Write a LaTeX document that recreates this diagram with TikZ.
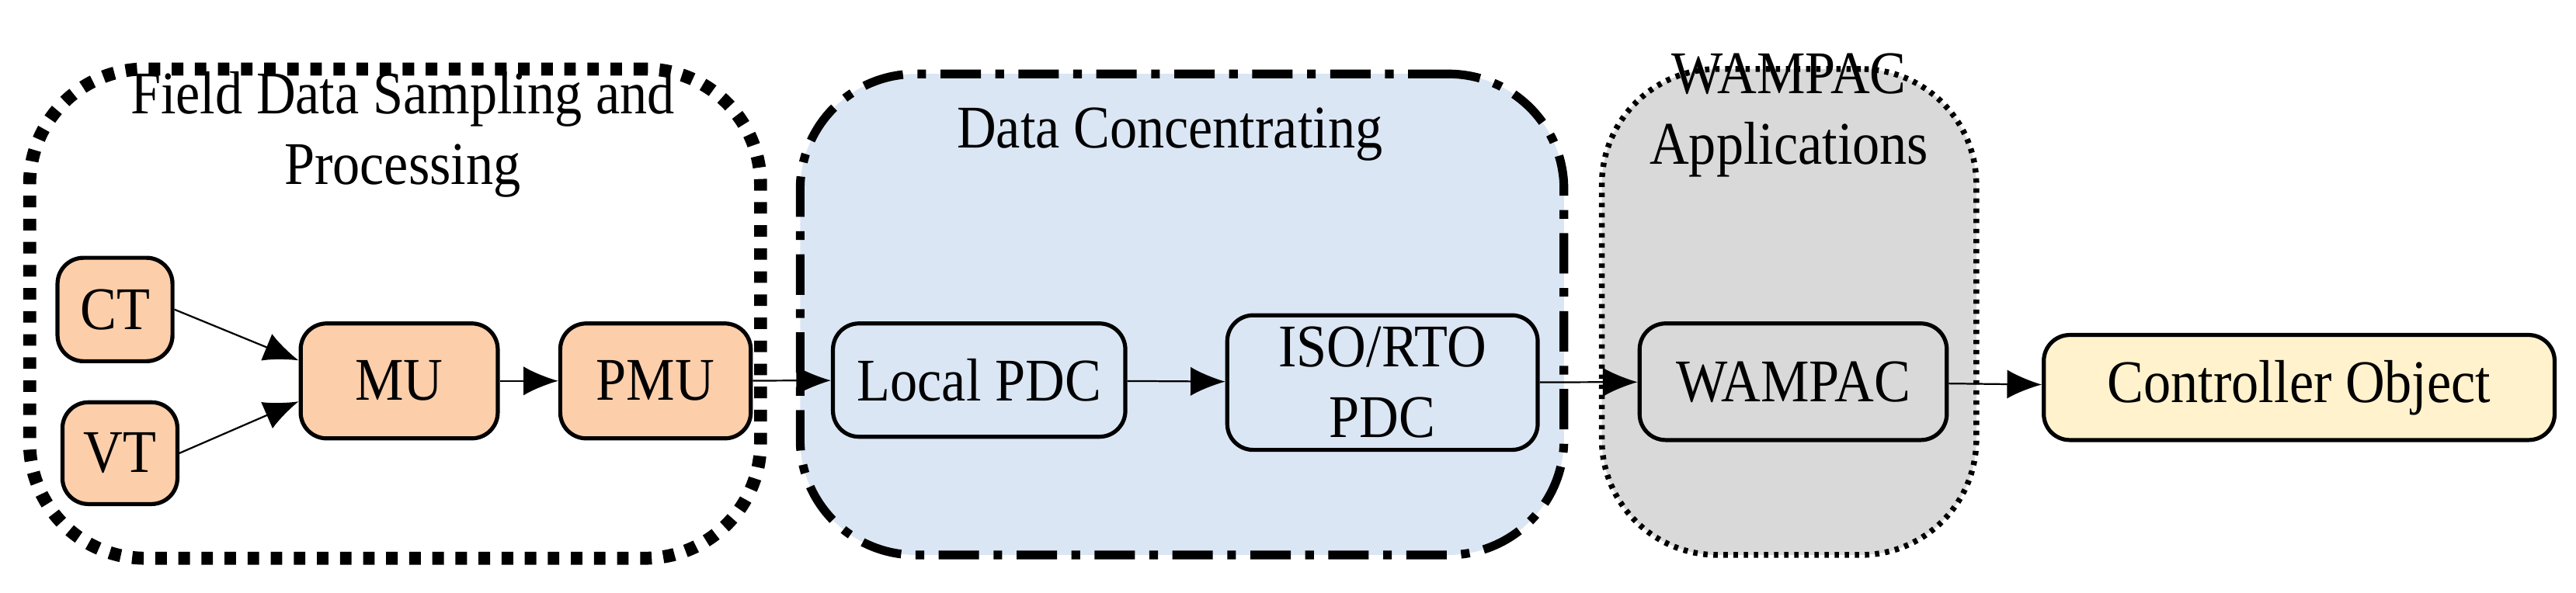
\documentclass[tikz,border=0pt]{standalone}
\usepackage{fontspec}
\setmainfont{Liberation Serif}[FakeStretch=0.9]
\usetikzlibrary{arrows.meta}
\definecolor{peach}{RGB}{252,206,170}
\definecolor{paleblue}{RGB}{218,230,244}
\definecolor{palegray}{RGB}{217,217,217}
\definecolor{paleyellow}{RGB}{255,242,204}
\tikzset{
  blk/.style={draw, line width=1.4pt, rounded corners=9pt, inner sep=0pt, align=center},
  grp/.style={draw, line width=3pt, rounded corners=40pt},
  con/.style={-{Latex[length=12pt,width=10pt]}, line width=0.6pt}
}
\begin{document}
\begin{tikzpicture}[x=0.02cm, y=-0.02cm, font=\fontsize{21}{24.5}\selectfont]
  \useasboundingbox (0,0) rectangle (1568,361);
  % group frames
  \node[grp, dash pattern=on 4pt off 4pt, line width=4.5pt, minimum width=8.9cm, minimum height=5.96cm] (field) at (240.5,191) {};
  \node[grp, fill=paleblue, dash pattern=on 14pt off 5pt on 3pt off 5pt, minimum width=9.3cm, minimum height=5.86cm] (conc) at (719.5,191.5) {};
  \node[grp, fill=palegray, dash pattern=on 1.5pt off 2pt, line width=2pt, minimum width=4.56cm, minimum height=5.92cm] (app) at (1089,190) {};
  % group titles
  \node[align=center] (fieldt) at (245,82) {Field Data Sampling and\\Processing};
  \node (conct) at (712,82) {Data Concentrating};
  \node[align=center] (appt) at (1089,70) {WAMPAC\\Applications};
  % blocks
  \node[blk, fill=peach, minimum width=1.4cm, minimum height=1.26cm] (ct) at (70,188.5) {CT};
  \node[blk, fill=peach, minimum width=1.4cm, minimum height=1.24cm] (vt) at (73,276) {VT};
  \node[blk, fill=peach, minimum width=2.4cm, minimum height=1.4cm] (mu) at (243,232) {MU};
  \node[blk, fill=peach, minimum width=2.32cm, minimum height=1.4cm] (pmu) at (399,232) {PMU};
  \node[blk, fill=paleblue, minimum width=3.56cm, minimum height=1.38cm] (lpdc) at (596,231.5) {Local PDC};
  \node[blk, fill=paleblue, minimum width=3.78cm, minimum height=1.64cm] (iso) at (841.5,233) {ISO/RTO\\PDC};
  \node[blk, fill=palegray, minimum width=3.74cm, minimum height=1.42cm] (wam) at (1091.5,232.5) {WAMPAC};
  \node[blk, fill=paleyellow, minimum width=6.22cm, minimum height=1.28cm] (obj) at (1399.5,236) {Controller Object};
  % connectors
  \draw[con] (ct.east) -- ([yshift=0.25cm]mu.west);
  \draw[con] (vt.east) -- ([yshift=-0.25cm]mu.west);
  \draw[con] (mu) -- (pmu);
  \draw[con] (pmu) -- (lpdc);
  \draw[con] (lpdc) -- (iso);
  \draw[con] (iso) -- (wam);
  \draw[con] (wam) -- (obj);
\end{tikzpicture}
\end{document}
